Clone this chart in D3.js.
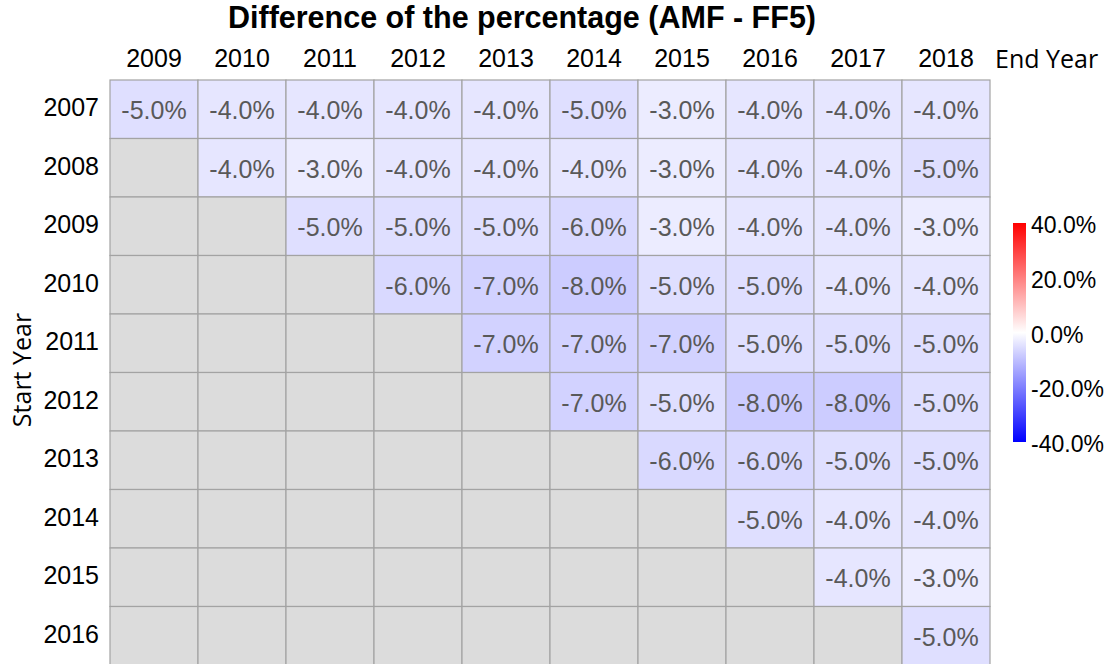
<!DOCTYPE html>
<html>
<head>
    <meta charset='utf-8'>
    <title>Heatmap</title>
    <script src='https://cdn.jsdelivr.net/npm/d3@7'></script>
    <style>
        body { margin: 0; background: #fff; }
    </style>
</head>
<body>
    <svg width='1111' height='664'></svg>
    <script>
        const startYears = [2007, 2008, 2009, 2010, 2011, 2012, 2013, 2014, 2015, 2016]
        const endYears = [2009, 2010, 2011, 2012, 2013, 2014, 2015, 2016, 2017, 2018]
        // each row: differences (%) for end years starting at the first valid end year
        const diffs = [
            [-5, -4, -4, -4, -4, -5, -3, -4, -4, -4],
            [-4, -3, -4, -4, -4, -3, -4, -4, -5],
            [-5, -5, -5, -6, -3, -4, -4, -3],
            [-6, -7, -8, -5, -5, -4, -4],
            [-7, -7, -7, -5, -5, -5],
            [-7, -5, -8, -8, -5],
            [-6, -6, -5, -5],
            [-5, -4, -4],
            [-4, -3],
            [-5]
        ]
        const legendTicks = [0.4, 0.2, 0, -0.2, -0.4]

        const svg = d3.select('svg')
        const fontMain = 'Liberation Sans, Arial, sans-serif'
        const fontAxis = 'Open Sans, sans-serif'
        const pct = v => d3.format('.1%')(v).replace('\u2212', '-')

        const x = d3.scaleBand().domain(endYears).range([110, 990])
        const y = d3.scaleBand().domain(startYears).range([80, 665])

        const color = d3.scaleLinear()
            .domain([-0.4, 0, 0.4])
            .range(['#0000ff', '#ffffff', '#ff0000'])

        // build cells: full grid, grey where no value
        const cells = []
        startYears.forEach((s, i) => {
            const row = diffs[i]
            const offset = endYears.length - row.length
            endYears.forEach((e, j) => {
                const v = j >= offset ? row[j - offset] / 100 : null
                cells.push({ start: s, end: e, value: v })
            })
        })

        svg.append('g').selectAll('rect')
            .data(cells)
            .enter()
            .append('rect')
            .attr('x', d => x(d.end))
            .attr('y', d => y(d.start))
            .attr('width', x.bandwidth())
            .attr('height', y.bandwidth())
            .attr('fill', d => d.value === null ? '#dcdcdc' : color(d.value))
            .attr('stroke', '#a3a3a3')
            .attr('stroke-width', 1.2)

        svg.append('g').selectAll('text')
            .data(cells.filter(d => d.value !== null))
            .enter()
            .append('text')
            .attr('x', d => x(d.end) + x.bandwidth() / 2)
            .attr('y', d => y(d.start) + y.bandwidth() / 2 + 1)
            .attr('text-anchor', 'middle')
            .attr('dominant-baseline', 'central')
            .attr('font-family', fontMain)
            .attr('font-size', 25)
            .attr('fill', '#595959')
            .text(d => pct(d.value))

        // column labels
        svg.append('g').selectAll('text')
            .data(endYears)
            .enter()
            .append('text')
            .attr('x', d => x(d) + x.bandwidth() / 2)
            .attr('y', 58)
            .attr('text-anchor', 'middle')
            .attr('dominant-baseline', 'central')
            .attr('font-family', fontMain)
            .attr('font-size', 25)
            .attr('fill', '#000')
            .text(d => d)

        // row labels
        svg.append('g').selectAll('text')
            .data(startYears)
            .enter()
            .append('text')
            .attr('x', 99)
            .attr('y', d => y(d) + y.bandwidth() / 2 - 2)
            .attr('text-anchor', 'end')
            .attr('dominant-baseline', 'central')
            .attr('font-family', fontMain)
            .attr('font-size', 25)
            .attr('fill', '#000')
            .text(d => d)

        svg.append('text')
            .attr('x', 995)
            .attr('y', 58)
            .attr('dominant-baseline', 'central')
            .attr('font-family', fontAxis)
            .attr('font-size', 25)
            .text('End Year')

        svg.append('text')
            .attr('transform', 'translate(21,370) rotate(-90)')
            .attr('text-anchor', 'middle')
            .attr('dominant-baseline', 'central')
            .attr('font-family', fontAxis)
            .attr('font-size', 25)
            .text('Start Year')

        svg.append('text')
            .attr('x', 522)
            .attr('y', 17)
            .attr('text-anchor', 'middle')
            .attr('dominant-baseline', 'central')
            .attr('font-family', fontMain)
            .attr('font-weight', 'bold')
            .attr('font-size', 30.5)
            .text('Difference of the percentage (AMF - FF5)')

        // colour bar
        const ly = d3.scaleLinear().domain([0.4, -0.4]).range([223, 442])
        const defs = svg.append('defs')
        const grad = defs.append('linearGradient')
            .attr('id', 'cbar')
            .attr('x1', 0).attr('y1', 0).attr('x2', 0).attr('y2', 1)
        d3.range(0, 1.0001, 0.1).forEach(t => {
            grad.append('stop')
                .attr('offset', t)
                .attr('stop-color', color(0.4 - 0.8 * t))
        })
        svg.append('rect')
            .attr('x', 1013)
            .attr('y', ly(0.4))
            .attr('width', 13)
            .attr('height', ly(-0.4) - ly(0.4))
            .attr('fill', 'url(#cbar)')

        svg.append('g').selectAll('text')
            .data(legendTicks)
            .enter()
            .append('text')
            .attr('x', 1031)
            .attr('y', d => ly(d) + 2)
            .attr('dominant-baseline', 'central')
            .attr('font-family', fontMain)
            .attr('font-size', 23)
            .attr('fill', '#000')
            .text(d => pct(d))
    </script>
</body>
</html>
